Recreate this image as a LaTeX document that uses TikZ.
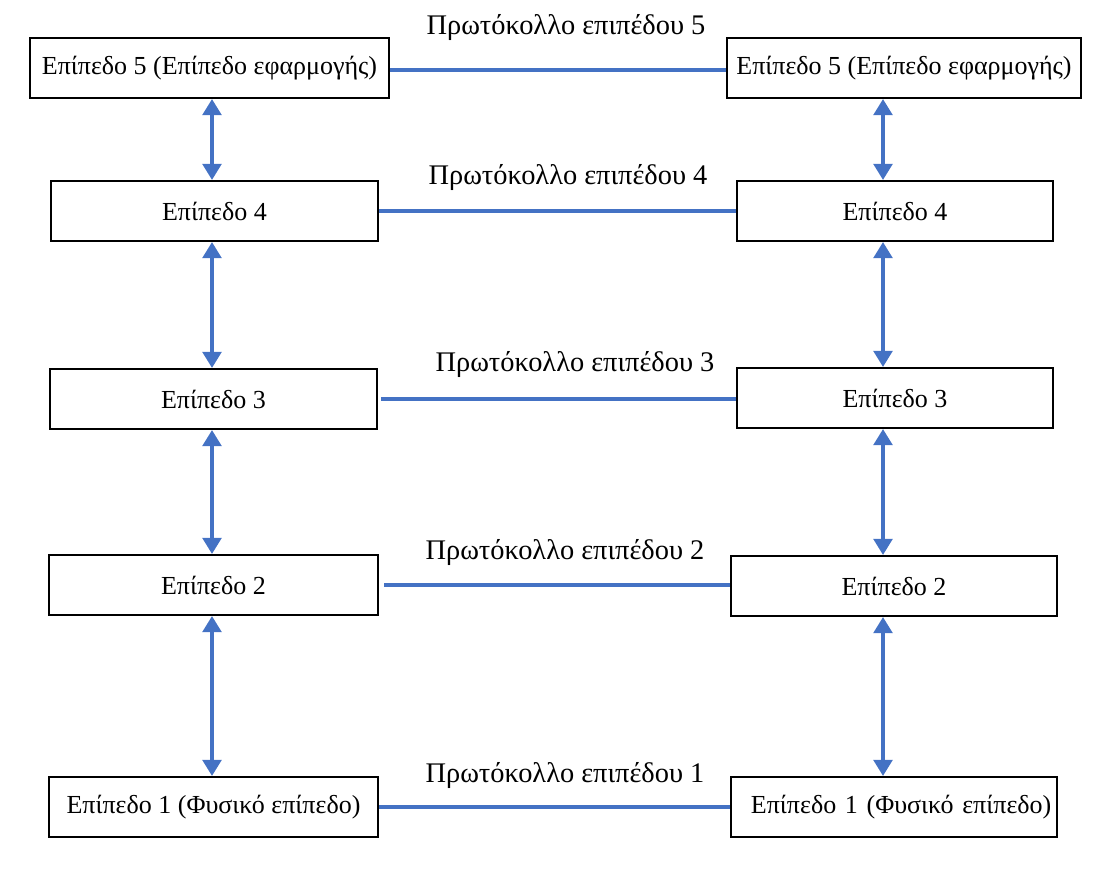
\documentclass[tikz,border=0pt]{standalone}
\usepackage{fontspec}
\setmainfont{Liberation Serif}
\usepackage{xcolor}
\definecolor{linkBlue}{HTML}{4472C4}
\usetikzlibrary{arrows.meta, positioning, calc}

\begin{document}
\begin{tikzpicture}[
    x=0.75pt, y=-0.75pt,
    every node/.style={font=\fontsize{19.5}{23}\selectfont},
    layer/.style={rectangle, draw=black, line width=1.6pt, minimum height=45pt, inner sep=0pt},
    protolabel/.style={inner sep=0pt, font=\fontsize{21.3}{25}\selectfont},
    peerline/.style={draw=linkBlue, line width=2.5pt},
    stackarrow/.style={{Triangle[width=14pt, length=12pt]}-{Triangle[width=14pt, length=12pt]}, draw=linkBlue, fill=linkBlue, line width=2.5pt},
]
\useasboundingbox (0,0) rectangle (1106,870);

% ====== LEFT STACK ======
\node[layer, minimum width=269pt] (left5) at (209.5,68) {Επίπεδο 5 (Επίπεδο εφαρμογής)};
\node[layer, minimum width=245pt] (left4) at (214.5,211) {Επίπεδο 4};
\node[layer, minimum width=245pt] (left3) at (213.5,399) {Επίπεδο 3};
\node[layer, minimum width=247pt] (left2) at (213.5,585) {Επίπεδο 2};
\node[layer, minimum width=247pt] (left1) at (213.5,807) {Επίπεδο 1 (Φυσικό επίπεδο)};

% ====== RIGHT STACK ======
\node[layer, minimum width=265pt] (right5) at (904,68) {Επίπεδο 5 (Επίπεδο εφαρμογής)};
\node[layer, minimum width=237pt] (right4) at (895,211) {Επίπεδο 4};
\node[layer, minimum width=237pt] (right3) at (895,398) {Επίπεδο 3};
\node[layer, minimum width=245pt] (right2) at (894,586) {Επίπεδο 2};
\node[layer, minimum width=245pt, text width=236pt, align=right] (right1) at (894,807) {Επίπεδο 1 (Φυσικό επίπεδο)};

% arrow columns
\coordinate (leftx) at (212,0);
\coordinate (rightx) at (883,0);

% --- vertical arrows ---
\foreach \upper/\lower in {5/4, 4/3, 3/2, 2/1} {
    \draw[stackarrow] (left\upper.south -| leftx) -- (left\lower.north -| leftx);
    \draw[stackarrow] (right\upper.south -| rightx) -- (right\lower.north -| rightx);
}

% --- peer protocol lines ---
\draw[peerline] (left5.east |- 0,70) -- (right5.west |- 0,70);
\draw[peerline] (left4.east) -- (right4.west);
\draw[peerline] ($(left3.east)+(3,0)$) -- (right3.west |- left3.east);
\draw[peerline] ($(left2.east)+(5,0)$) -- (right2.west |- left2.east);
\draw[peerline] (left1.east) -- (right1.west);

% protocol labels
\node[protolabel] (proto5) at (566,28) {Πρωτόκολλο επιπέδου 5};
\node[protolabel] (proto4) at (568,178) {Πρωτόκολλο επιπέδου 4};
\node[protolabel] (proto3) at (575,365) {Πρωτόκολλο επιπέδου 3};
\node[protolabel] (proto2) at (565,553) {Πρωτόκολλο επιπέδου 2};
\node[protolabel] (proto1) at (565,776) {Πρωτόκολλο επιπέδου 1};

\end{tikzpicture}
\end{document}
